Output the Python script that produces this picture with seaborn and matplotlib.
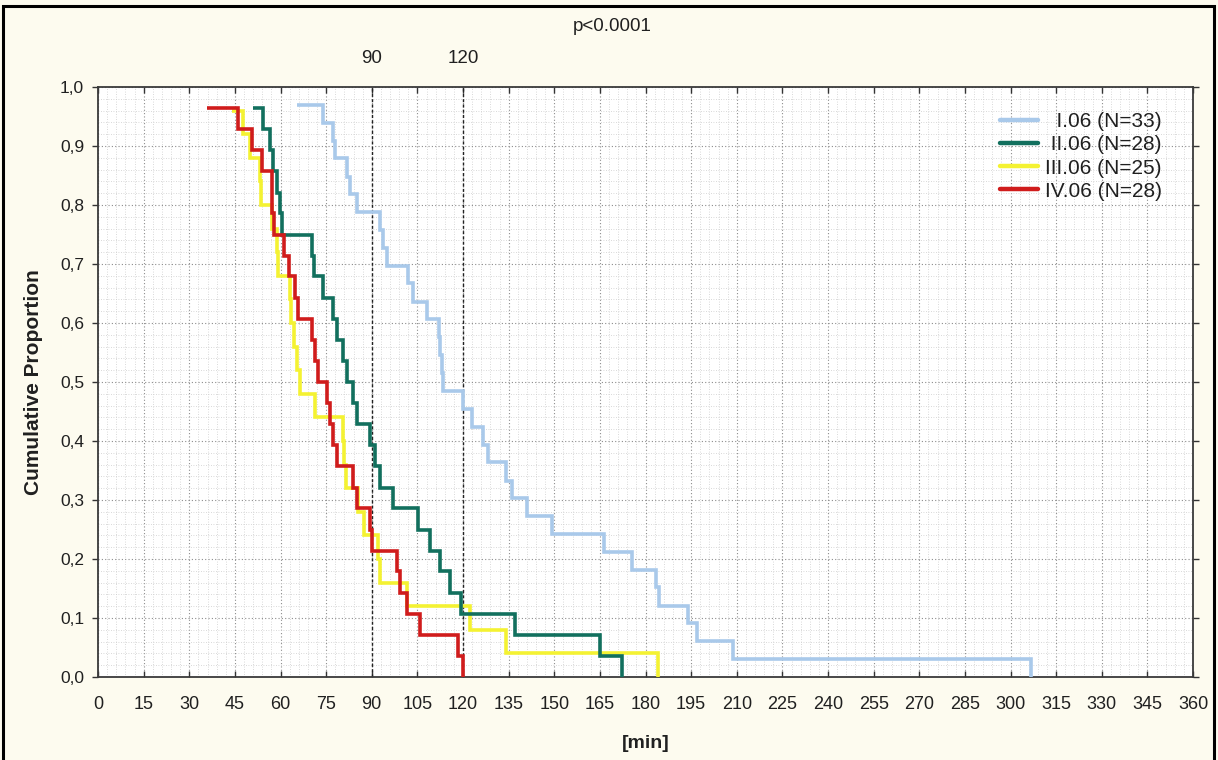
import matplotlib
matplotlib.use("Agg")
import numpy as np
import pandas as pd
import matplotlib.pyplot as plt
import seaborn as sns
from matplotlib import font_manager
from matplotlib.ticker import MultipleLocator
from matplotlib.lines import Line2D
from matplotlib.patches import Rectangle
import matplotlib.transforms as mtransforms

# ---- data -----------------------------------------------------------------
groups = ["I.06", "II.06", "III.06", "IV.06"]
legend_labels = ["  I.06 (N=33)", " II.06 (N=28)", "III.06 (N=25)", "IV.06 (N=28)"]
colors = ["#a9c9ea", "#12705e", "#f4f232", "#d01c1c"]

# event times [min] and cumulative proportion remaining after each event
t_i = [65.3, 74.1, 77.4, 78.0, 81.7, 82.8, 85.0, 92.7, 93.8, 94.9, 102.0,
       103.7, 108.0, 112.0, 112.4, 113.0, 113.5, 120.1, 122.8, 126.7, 128.3,
       134.3, 136.0, 140.9, 149.4, 166.3, 175.7, 183.6, 184.5, 194.0, 196.8,
       208.8, 306.9]
p_i = [0.970, 0.939, 0.909, 0.879, 0.848, 0.818, 0.788, 0.758, 0.727, 0.697,
       0.667, 0.636, 0.606, 0.576, 0.545, 0.515, 0.485, 0.455, 0.424, 0.394,
       0.364, 0.333, 0.303, 0.273, 0.242, 0.212, 0.182, 0.152, 0.121, 0.091,
       0.061, 0.030, 0.0]

t_ii = [51.1, 54.3, 56.5, 57.6, 59.0, 59.8, 60.4, 70.3, 71.0, 74.1, 77.3,
        78.5, 80.5, 81.7, 83.9, 85.0, 89.4, 91.0, 92.7, 97.1, 105.3, 109.1,
        112.4, 115.7, 119.5, 137.1, 165.0, 172.2]
p_ii = [0.964, 0.929, 0.893, 0.857, 0.821, 0.786, 0.750, 0.714, 0.679, 0.643,
        0.607, 0.571, 0.536, 0.500, 0.464, 0.429, 0.393, 0.357, 0.321, 0.286,
        0.250, 0.214, 0.179, 0.143, 0.107, 0.071, 0.036, 0.0]

t_iii = [44.0, 47.7, 50.0, 53.3, 53.5, 57.1, 59.0, 59.3, 63.0, 63.5, 64.5,
         65.5, 66.5, 71.3, 80.6, 81.0, 81.5, 85.5, 87.5, 92.0, 92.7, 101.5,
         122.3, 134.3, 184.2]
p_iii = [0.96, 0.92, 0.88, 0.84, 0.80, 0.76, 0.72, 0.68, 0.64, 0.60, 0.56,
         0.52, 0.48, 0.44, 0.40, 0.36, 0.32, 0.28, 0.24, 0.20, 0.16, 0.12,
         0.08, 0.04, 0.0]

t_iv = [35.7, 46.1, 50.5, 53.8, 57.1, 58.0, 61.0, 62.7, 64.8, 65.9, 70.2,
        71.3, 72.4, 75.2, 76.3, 77.4, 78.5, 83.9, 85.0, 89.4, 90.0, 98.2,
        99.3, 101.5, 105.9, 118.5, 120.0]
p_iv = [0.964, 0.929, 0.893, 0.857, 0.786, 0.750, 0.714, 0.679, 0.643, 0.607,
        0.571, 0.536, 0.500, 0.464, 0.429, 0.393, 0.357, 0.321, 0.286, 0.250,
        0.214, 0.179, 0.143, 0.107, 0.071, 0.036, 0.0]

cutoffs = [90, 120]
cutoff_labels = ["90", "120"]
x_ticks = list(range(0, 361, 15))
y_ticks = [0.0, 0.1, 0.2, 0.3, 0.4, 0.5, 0.6, 0.7, 0.8, 0.9, 1.0]
y_tick_labels = ["0,0", "0,1", "0,2", "0,3", "0,4", "0,5", "0,6", "0,7",
                 "0,8", "0,9", "1,0"]
p_text = "p<0.0001"

# ---- style ----------------------------------------------------------------
sns.set_style("white")
plt.rcParams["font.family"] = ["Liberation Sans", "DejaVu Sans"]
installed = {f.name for f in font_manager.fontManager.ttflist}
NARROW = "Liberation Sans Narrow" if "Liberation Sans Narrow" in installed else "Liberation Sans"

BG = "#fdfbef"
W, H = 1218, 760
fig = plt.figure(figsize=(W / 100, H / 100), dpi=100, facecolor=BG)
ax = fig.add_axes([98 / W, 1 - 677 / H, (1193 - 98) / W, (677 - 87) / H])
ax.set_facecolor("white")

frames = []
for g, t, p in zip(groups, [t_i, t_ii, t_iii, t_iv], [p_i, p_ii, p_iii, p_iv]):
    frames.append(pd.DataFrame({"group": g, "t": t, "p": p}))
df = pd.concat(frames, ignore_index=True)

sns.lineplot(data=df, x="t", y="p", hue="group", hue_order=groups,
             palette=colors, estimator=None, sort=False,
             drawstyle="steps-post", linewidth=2.6, legend=False, ax=ax)

curve_lines = ax.lines[:4]
for ln, z in zip(curve_lines, [3.0, 3.2, 3.1, 3.3]):
    ln.set_zorder(z)
    ln.set_solid_capstyle("butt")
    ln.set_solid_joinstyle("miter")

# reference cut-off lines
for c in cutoffs:
    ax.axvline(c, color="#222222", linewidth=1.0, linestyle=(0, (2.2, 1.6)), zorder=2.5)

ax.set_xlim(0, 360)
ax.set_ylim(0, 1)
ax.set_xticks(x_ticks)
ax.set_yticks(y_ticks)
ax.set_yticklabels(y_tick_labels)
ax.xaxis.set_minor_locator(MultipleLocator(3))
ax.yaxis.set_minor_locator(MultipleLocator(0.02))

ax.grid(which="major", color="#8c8c8c", linestyle=(0, (1, 2)), linewidth=0.8, zorder=0)
ax.grid(which="minor", color="#cdcdcd", linestyle=(0, (1, 2)), linewidth=0.6, zorder=0)
ax.set_axisbelow(True)

ax.tick_params(axis="x", which="major", direction="in", length=4, width=1,
               top=True, bottom=True, pad=14, labelsize=13, color="#333333")
ax.tick_params(axis="y", which="major", direction="out", length=4, width=1,
               left=True, right=True, pad=6, labelsize=12.5, color="#333333")
ax.tick_params(which="minor", length=0)
for lab in ax.get_xticklabels() + ax.get_yticklabels():
    lab.set_fontfamily([NARROW, "DejaVu Sans"])
    lab.set_color("#202020")

for s in ax.spines.values():
    s.set_color("#3a3a3a")
    s.set_linewidth(1.3)

ax.set_xlabel("[min]", fontsize=14, fontweight="bold", color="#202020")
ax.xaxis.label.set_va("center")
ax.xaxis.set_label_coords(0.5, -0.112)
ax.set_ylabel("Cumulative Proportion", fontsize=15, fontweight="bold", color="#202020")
ax.yaxis.label.set_va("center")
ax.yaxis.set_label_coords(-0.059, 0.5)

# labels above the plot
trans = mtransforms.blended_transform_factory(ax.transData, ax.transAxes)
for c, lab in zip(cutoffs, cutoff_labels):
    ax.text(c, 1.049, lab, transform=trans, ha="center", va="center",
            fontsize=13.5, color="#202020")
ax.text((612 - 98) / 1095, 1.102, p_text, transform=ax.transAxes,
        ha="center", va="center", fontsize=13.5, color="#202020")

# legend
handles = [Line2D([], [], color=c, linewidth=3.2) for c in colors]
leg = ax.legend(handles, legend_labels, loc="upper right",
                bbox_to_anchor=(0.985, 0.982), frameon=False, fontsize=15,
                handlelength=1.8, handletextpad=0.35, labelspacing=0.2,
                borderpad=0.2)
for t in leg.get_texts():
    t.set_color("#202020")

# outer frame of the figure
fig.patches.append(Rectangle((3, -20), 1211, 774, transform=None,
                             fill=False, edgecolor="black", linewidth=2.2))

fig.savefig("out.png", dpi=100, facecolor=BG)
